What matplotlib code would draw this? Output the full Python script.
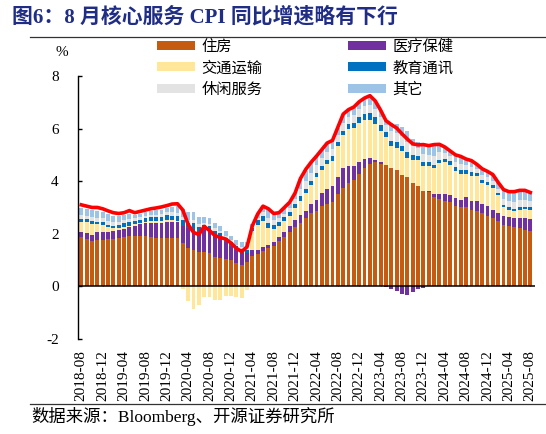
import numpy as np
import pandas as pd
import matplotlib
matplotlib.use("Agg")
import matplotlib.pyplot as plt
from matplotlib.patches import Patch

CJK = ["Noto Sans CJK SC", "DejaVu Sans"]
SERIF = ["Liberation Serif", "Noto Sans CJK SC"]

months = pd.date_range("2018-08-01", "2025-08-01", freq="MS").strftime("%Y-%m").tolist()

# contributions to core services CPI yoy, %
housing = [
    1.86, 1.81, 1.74, 1.77, 1.77, 1.79, 1.81, 1.84, 1.86, 1.90, 1.90, 1.93, 1.90, 1.88, 1.84, 1.82, 1.84, 1.82, 1.82,
    1.66, 1.46, 1.40, 1.31, 1.29, 1.27, 1.12, 1.08, 1.05, 1.00, 0.90, 0.80, 0.93,
    1.17, 1.22, 1.36, 1.45, 1.55, 1.72, 1.88, 2.05, 2.25,
    2.42, 2.60, 2.78, 2.88, 3.05, 3.15, 3.22, 3.50, 3.74, 3.92, 4.05, 4.27, 4.50, 4.64, 4.71, 4.66, 4.63, 4.50,
    4.44, 4.22, 4.15, 3.93, 3.80,
    3.62, 3.57, 3.40, 3.33, 3.25, 3.19, 3.05, 3.02, 3.03, 2.90, 2.88, 2.78, 2.69, 2.60, 2.50, 2.35, 2.31, 2.26,
    2.22, 2.16, 2.10,
]
medical = [
    0.19, 0.22, 0.23, 0.29, 0.30, 0.29, 0.30, 0.29, 0.32, 0.35, 0.40, 0.44, 0.50, 0.53, 0.57, 0.60, 0.62, 0.63, 0.63,
    0.65, 0.75, 0.78, 0.75, 0.85, 0.85, 0.80, 0.78, 0.65, 0.55, 0.48, 0.45, 0.32,
    0.22, 0.17, 0.12, 0.12, 0.12, 0.15, 0.20, 0.25, 0.28,
    0.28, 0.25, 0.35, 0.42, 0.50, 0.57, 0.60, 0.67, 0.76, 0.66, 0.53, 0.47, 0.35, 0.25, 0.10, 0.06, -0.04, -0.10,
    -0.19, -0.28, -0.32, -0.23, -0.10,
    -0.06, 0.05, 0.10, 0.20, 0.28, 0.30, 0.30, 0.28, 0.35, 0.35, 0.38, 0.35, 0.35, 0.32, 0.28, 0.32, 0.33, 0.35,
    0.38, 0.42, 0.45,
]
transport = [
    0.39, 0.40, 0.41, 0.30, 0.27, 0.16, 0.10, 0.09, 0.07, 0.06, 0.06, 0.05, 0.06, 0.06, 0.06, 0.05, 0.08, 0.06, 0.05,
    -0.09, -0.55, -0.88, -0.70, -0.40, -0.40, -0.52, -0.52, -0.35, -0.36, -0.40, -0.45, -0.15,
    0.70, 0.95, 0.99, 0.65, 0.51, 0.41, 0.39, 0.36, 0.45,
    0.56, 0.70, 0.74, 0.84, 0.89, 0.94, 0.96, 1.15, 1.24, 1.42, 1.44, 1.47, 1.49, 1.45, 1.36, 1.17, 1.04, 0.82,
    0.82, 0.91, 0.73, 0.89, 1.02,
    0.97, 0.97, 1.00, 1.16, 1.20, 1.14, 1.05, 0.97, 0.90, 0.93, 0.92, 0.80, 0.80, 0.82, 0.68, 0.33, 0.28, 0.27,
    0.32, 0.37, 0.37,
]
education = [
    0.12, 0.12, 0.12, 0.10, 0.10, 0.10, 0.10, 0.12, 0.14, 0.13, 0.14, 0.12, 0.13, 0.15, 0.16, 0.17, 0.18, 0.18, 0.18,
    0.20, 0.20, 0.22, 0.20, 0.18, 0.16, 0.18, 0.16, 0.15, 0.14, 0.14, 0.16, 0.15,
    0.12, 0.20, 0.22, 0.18, 0.17, 0.15, 0.15, 0.15, 0.15,
    0.16, 0.15, 0.15, 0.16, 0.15, 0.16, 0.16, 0.18, 0.16, 0.18, 0.20, 0.24, 0.22, 0.24, 0.26, 0.24, 0.20, 0.22,
    0.22, 0.20, 0.22, 0.18, 0.15,
    0.14, 0.12, 0.12, 0.13, 0.12, 0.12, 0.14, 0.15, 0.14, 0.15, 0.14, 0.12, 0.12, 0.10, 0.10, 0.10, 0.08, 0.08,
    0.08, 0.08, 0.08,
]
leisure = [
    0.15, 0.13, 0.13, 0.14, 0.14, 0.15, 0.14, 0.12, 0.12, 0.13, 0.10, 0.10, 0.10, 0.10, 0.10, 0.10, 0.10, 0.12, 0.12,
    0.14, 0.13, 0.14, 0.12, 0.10, 0.10, 0.10, 0.08, 0.07, 0.07, 0.06, 0.07, 0.08,
    0.05, 0.06, 0.12, 0.20, 0.18, 0.15, 0.15, 0.17, 0.20,
    0.30, 0.32, 0.30, 0.30, 0.28, 0.28, 0.28, 0.26, 0.30, 0.26, 0.28, 0.28, 0.28, 0.30, 0.30, 0.30, 0.25, 0.35,
    0.36, 0.38, 0.40, 0.35, 0.30,
    0.32, 0.30, 0.32, 0.28, 0.22, 0.20, 0.20, 0.24, 0.20, 0.20, 0.14, 0.18, 0.18, 0.18, 0.16, 0.24, 0.26, 0.26,
    0.27, 0.26, 0.24,
]
other = [
    0.28, 0.26, 0.26, 0.28, 0.26, 0.27, 0.24, 0.20, 0.20, 0.20, 0.12, 0.13, 0.12, 0.14, 0.16, 0.18, 0.16, 0.22, 0.24,
    0.30, 0.28, 0.28, 0.24, 0.23, 0.20, 0.22, 0.20, 0.18, 0.17, 0.17, 0.20, 0.20,
    0.10, 0.15, 0.22, 0.30, 0.20, 0.18, 0.20, 0.20, 0.20,
    0.35, 0.38, 0.37, 0.32, 0.30, 0.32, 0.30, 0.26, 0.32, 0.25, 0.29, 0.26, 0.29, 0.34, 0.29, 0.24, 0.20, 0.33,
    0.35, 0.34, 0.40, 0.27, 0.20,
    0.37, 0.31, 0.42, 0.27, 0.20, 0.17, 0.23, 0.25, 0.19, 0.22, 0.16, 0.21, 0.20, 0.20, 0.20, 0.31, 0.31, 0.35,
    0.35, 0.33, 0.30,
]
core_services = [
    3.10, 3.05, 3.00, 3.00, 2.95, 2.87, 2.80, 2.77, 2.80, 2.88, 2.80, 2.85, 2.90, 2.95, 2.98, 3.02, 3.07, 3.13, 3.14,
    2.90, 2.35, 2.05, 1.97, 2.28, 2.12, 1.93, 1.86, 1.80, 1.65, 1.45, 1.32, 1.50,
    2.30, 2.75, 3.05, 2.95, 2.77, 2.80, 3.00, 3.20, 3.55,
    4.10, 4.45, 4.72, 4.95, 5.20, 5.45, 5.55, 6.05, 6.55, 6.72, 6.82, 7.02, 7.16, 7.25, 7.05, 6.70, 6.30, 6.15,
    6.02, 5.80, 5.60, 5.42, 5.38,
    5.39, 5.35, 5.39, 5.40, 5.30, 5.15, 5.00, 4.94, 4.84, 4.78, 4.64, 4.47, 4.37, 4.25, 3.95, 3.68, 3.60, 3.60,
    3.65, 3.65, 3.57,
]

series = [
    ("住房", housing, "#C55A11"),
    ("医疗保健", medical, "#7030A0"),
    ("交通运输", transport, "#FFE699"),
    ("教育通讯", education, "#0070C0"),
    ("休闲服务", leisure, "#E3E3E3"),
    ("其它", other, "#9DC3E6"),
]
tick_labels = months[::4]

fig = plt.figure(figsize=(5.46, 4.34), dpi=100)
ax = fig.add_axes([0.143, 0.219, 0.837, 0.606])

x = np.arange(len(months))
pos_base = np.zeros(len(months))
neg_base = np.zeros(len(months))
handles = {}
for name, vals, color in series:
    v = np.array(vals)
    bottom = np.where(v >= 0, pos_base, neg_base)
    ax.bar(x, v, width=0.72, bottom=bottom, color=color, linewidth=0, zorder=2)
    handles[name] = Patch(facecolor=color, label=name)
    pos_base = pos_base + np.clip(v, 0, None)
    neg_base = neg_base + np.clip(v, None, 0)

ax.plot(x, core_services, color="#FF0000", lw=2.6, zorder=4, solid_joinstyle="round")
ax.axhline(0, color="black", lw=1.1, zorder=3)

ax.set_xlim(-0.6, 84.9)
ax.set_ylim(-2, 8)
ax.set_yticks([-2, 0, 2, 4, 6, 8])
ax.set_yticklabels(["-2", "0", "2", "4", "6", "8"], family=SERIF, fontsize=11)
ax.tick_params(axis="y", direction="in", length=3, width=1, pad=14)
ax.set_xticks(x[::4])
ax.set_xticklabels(tick_labels, rotation=90, family=SERIF, fontsize=11)
ax.tick_params(axis="x", length=0, pad=8)
for s in ["top", "right", "bottom"]:
    ax.spines[s].set_visible(False)
ax.spines["left"].set_linewidth(1)

# tick marks sitting on the zero line
sec = ax.secondary_xaxis(0.2)
sec.set_xticks(x[::4])
sec.set_xticklabels([])
sec.tick_params(direction="in", length=3, width=1, color="#555555")
sec.spines["bottom"].set_visible(False)
sec.spines["top"].set_visible(False)

fig.text(0.114, 0.878, "%", ha="center", va="center", family=SERIF, fontsize=11)

order = ["住房", "交通运输", "休闲服务", "医疗保健", "教育通讯", "其它"]
ax.legend([handles[n] for n in order], order, ncol=2, loc="upper left",
          bbox_to_anchor=(157 / 546, 1 - 38 / 434), bbox_transform=fig.transFigure,
          frameon=False, prop={"family": CJK, "size": 11}, handlelength=2.5,
          handleheight=0.55, handletextpad=0.4, labelspacing=0.28,
          columnspacing=5.6, borderpad=0, borderaxespad=0)

fig.text(0.022, 0.96, "图6：8 月核心服务 CPI 同比增速略有下行", ha="left", va="center",
         family=SERIF, fontsize=15, fontweight="bold", color="#1F2D86")
fig.add_artist(plt.Line2D([0.055, 0.998], [0.915, 0.915], color="#333333", lw=0.9))
fig.add_artist(plt.Line2D([0.055, 0.998], [0.068, 0.068], color="#333333", lw=0.9))
fig.text(0.058, 0.041, "数据来源：Bloomberg、开源证券研究所", ha="left", va="center",
         family=SERIF, fontsize=12.5)

fig.savefig("out.png", dpi=100)
